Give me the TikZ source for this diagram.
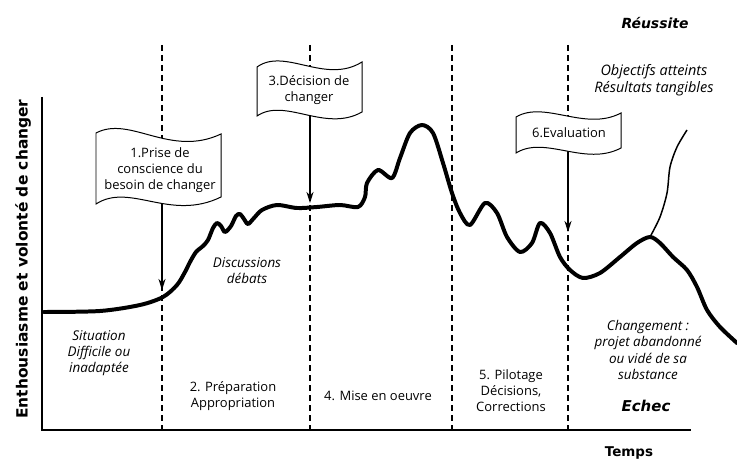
\documentclass[tikz,border=0pt]{standalone}
\usepackage{fontspec}
\setmainfont{Open Sans}
\newfontfamily\heavyfont{DejaVu Sans}
\usepackage{tikz}
\usetikzlibrary{arrows.meta}

\begin{document}
\begin{tikzpicture}[x=1bp, y=-1bp, thick,
  txt/.style={font=\fontsize{13}{16}\selectfont, align=center, inner sep=0},
  itxt/.style={txt, font=\fontsize{13.5}{16.3}\selectfont\itshape},
  heavy/.style={font=\heavyfont\bfseries\fontsize{13.5}{17}\selectfont, inner sep=0},
  heavyit/.style={font=\heavyfont\bfseries\itshape\fontsize{14}{17}\selectfont, inner sep=0},
  phase/.style={line width=2, dash pattern=on 6bp off 4bp},
  flag/.style={draw, fill=white, line width=1},
  pointer/.style={-{Stealth[length=11bp, width=7bp]}, line width=2}
]
  \useasboundingbox (0,0) rectangle (737,464);

  % phase borders
  \foreach \x in {162, 310, 452, 568}
    \draw[phase] (\x,45) -- (\x,430);

  % axes
  \draw[line width=2] (42,97) -- (42,430) -- (691,430);

  % enthusiasm curve
  \draw[line width=4, line cap=round, line join=round] plot[smooth, tension=0.5] coordinates {
    (44,312) (100,311) (140,305) (163,297) (177,285) (185,272) (190,262)
    (196,252) (203,246) (208,240) (213,228) (217,223) (221,226) (225,232)
    (231,226) (236,216) (240,214) (244,219) (248,224) (254,218) (262,210)
    (277,205) (297,208) (317,207) (340,205) (358,207) (365,197) (367,183)
    (378,170) (392,178) (400,158) (410,133) (422,125) (433,133) (443,163)
    (452,193) (460,213) (470,225) (485,203) (497,213) (507,237) (520,252)
    (532,243) (540,223) (550,233) (560,257) (570,270) (583,278) (600,273)
    (620,257) (637,243) (650,237) (660,243) (673,257) (687,270) (697,287)
    (707,310) (720,327) (737,343)};
  \draw[line width=1.5] plot[smooth] coordinates {
    (650,237) (660,217) (667,193) (670,167) (677,147) (687,130)};

  \coordinate (foot1) at (162,200);
  \coordinate (hit1) at (162,290);
  \coordinate (foot3) at (310,112);
  \coordinate (hit3) at (310,203);
  \coordinate (foot6) at (568,148);
  \coordinate (hit6) at (568,232);
  \draw[pointer] (foot1) -- (hit1);
  \draw[pointer] (foot3) -- (hit3);
  \draw[pointer] (foot6) -- (hit6);

  % flags
  \filldraw[flag] (96,133) .. controls (130,115) and (170,158) .. (221,134)
    -- (221,197) .. controls (170,222) and (130,182) .. (96,204) -- cycle;
  \filldraw[flag] (257,67) .. controls (285,47) and (325,85) .. (362,62)
    -- (362,112) .. controls (325,133) and (285,97) .. (257,116) -- cycle;
  \filldraw[flag] (516,117) .. controls (545,100) and (585,132) .. (621,113)
    -- (621,148) .. controls (585,167) and (545,135) .. (516,153) -- cycle;

  \node[txt] (prise) at (160,170) {1.Prise de\\conscience du\\besoin de changer};
  \node[txt] (decision) at (309,90) {3.Décision de\\changer};
  \node[txt] (evaluation) at (569,133) {6.Evaluation};

  % phases
  \node[itxt] (situation) at (99,353) {Situation\\Difficile ou\\inadaptée};
  \node[itxt] (discussions) at (247,271) {Discussions\\débats};
  \node[txt] (preparation) at (233,396) {2. Préparation\\Appropriation};
  \node[txt] (mise) at (378,396) {4. Mise en oeuvre};
  \node[txt] (pilotage) at (511,391) {5. Pilotage\\Décisions,\\Corrections};
  \node[itxt, font=\fontsize{14.5}{16.5}\selectfont\itshape] (objectifs) at (654,80) {Objectifs atteints\\Résultats tangibles};
  \node[itxt] (abandon) at (648,350) {Changement :\\projet abandonné\\ou vidé de sa\\substance};

  \node[heavyit] (reussite) at (655,23) {Réussite};
  \node[heavyit, font=\heavyfont\bfseries\itshape\fontsize{15}{17}\selectfont] (echec) at (646,406) {Echec};
  \node[heavy] (temps) at (629,453) {Temps};
  \node[heavy, rotate=90, font=\heavyfont\bfseries\fontsize{15.5}{17}\selectfont] (enthousiasme) at (23,259) {Enthousiasme et volonté de changer};
\end{tikzpicture}
\end{document}
